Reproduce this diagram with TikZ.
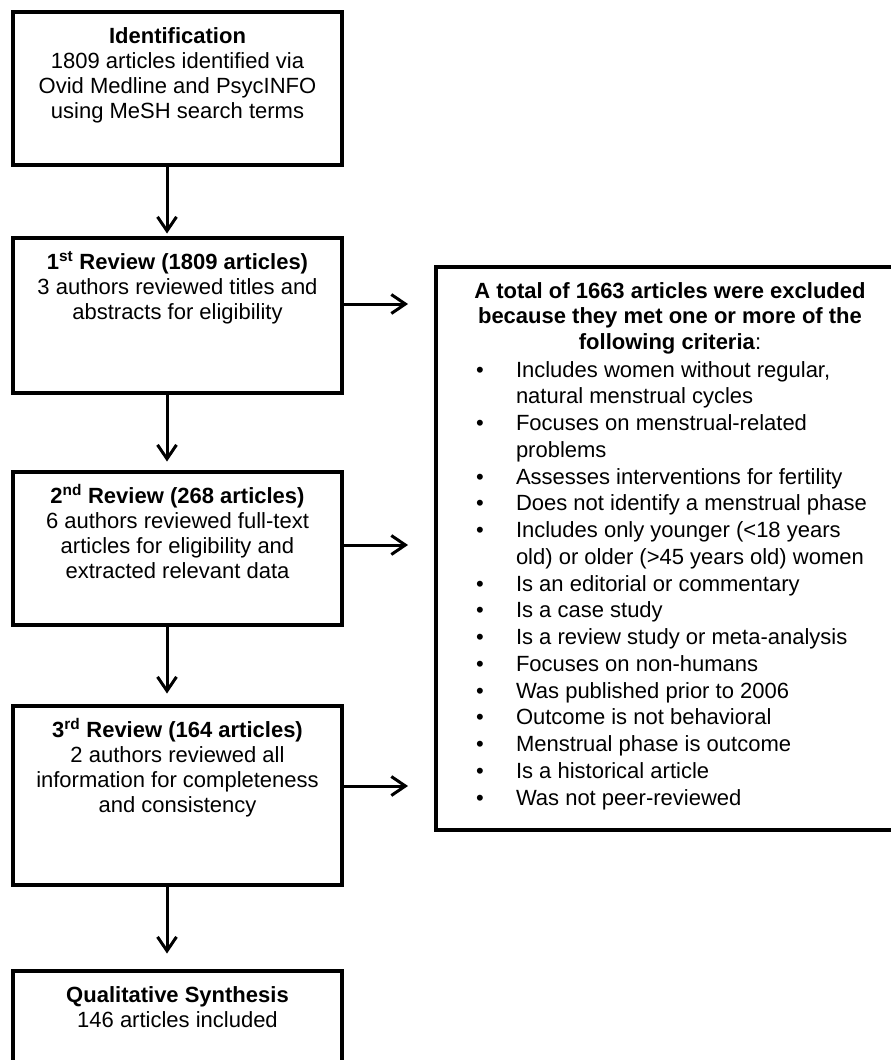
\documentclass[tikz,border=0pt]{standalone}
\usepackage{fontspec}
\setmainfont{Liberation Sans}
\usetikzlibrary{arrows.meta,positioning}
\newcommand{\stagebody}[2]{\begin{minipage}[t][#1][t]{329pt}\centering\fontsize{22}{25}\selectfont\rule{0pt}{31pt}#2\end{minipage}}
\newcommand{\critem}[1]{\par\noindent\hangindent=80pt\hangafter=1\hspace*{40pt}\makebox[40pt][l]{\textbullet}#1\par}

\begin{document}
\begin{tikzpicture}[x=1pt,y=-1pt,
    stage/.style={draw,line width=3.3pt,inner sep=0pt,outer sep=0pt,anchor=north west},
    flow/.style={line width=3pt,-{Straight Barb[length=14pt,width=19pt]}}]
  \useasboundingbox (0,0) rectangle (891,1060);
  \clip (0,0) rectangle (891,1060);
  \node[stage] (id) at (13,12)
    {\stagebody{153pt}{\textbf{Identification}\\1809 articles identified via\\Ovid Medline and PsycINFO\\using MeSH search terms}};
  \node[stage] (r1) at (13,238)
    {\stagebody{155pt}{\textbf{1\textsuperscript{st} Review (1809 articles)}\\3 authors reviewed titles and\\abstracts for eligibility}};
  \node[stage] (r2) at (13,472)
    {\stagebody{153pt}{\textbf{2\textsuperscript{nd} Review (268 articles)}\\6 authors reviewed full-text\\articles for eligibility and\\extracted relevant data}};
  \node[stage] (r3) at (13,706)
    {\stagebody{179pt}{\textbf{3\textsuperscript{rd} Review (164 articles)}\\2 authors reviewed all\\information for completeness\\and consistency}};
  \node[stage] (qs) at (13,971)
    {\stagebody{155pt}{\textbf{Qualitative Synthesis}\\146 articles included}};
  % exclusion criteria
  \node[stage] (excl) at (436,267)
    {\begin{minipage}[t][563pt][t]{468pt}
      {\centering\fontsize{22}{25.5}\selectfont\rule{0pt}{31pt}\textbf{A total of 1663 articles were excluded}\\
       \textbf{because they met one or more of the}\\\textbf{following criteria}:\par}
      \fontsize{22}{26.75}\selectfont\raggedright\vspace{1.25pt}
      \critem{Includes women without regular,\newline natural menstrual cycles}
      \critem{Focuses on menstrual-related\newline problems}
      \critem{Assesses interventions for fertility}
      \critem{Does not identify a menstrual phase}
      \critem{Includes only younger (<18 years\newline old) or older (>45 years old) women}
      \critem{Is an editorial or commentary}
      \critem{Is a case study}
      \critem{Is a review study or meta-analysis}
      \critem{Focuses on non-humans}
      \critem{Was published prior to 2006}
      \critem{Outcome is not behavioral}
      \critem{Menstrual phase is outcome}
      \critem{Is a historical article}
      \critem{Was not peer-reviewed}
    \end{minipage}};
  \draw[flow,shorten >=4.5pt] ([xshift=-10.5pt]id.south) -- ([xshift=-10.5pt]r1.north);
  \draw[flow,shorten >=10.5pt] ([xshift=-10.5pt]r1.south) -- ([xshift=-10.5pt]r2.north);
  \draw[flow,shorten >=12.5pt] ([xshift=-10.5pt]r2.south) -- ([xshift=-10.5pt]r3.north);
  \draw[flow,shorten >=17.5pt] ([xshift=-10.5pt]r3.south) -- ([xshift=-10.5pt]qs.north);
  \draw[flow,shorten >=28pt] ([yshift=11.5pt]r1.east) -- ([yshift=11.5pt]r1.east -| excl.west);
  \draw[flow,shorten >=28pt] ([yshift=3.5pt]r2.east) -- ([yshift=3.5pt]r2.east -| excl.west);
  \draw[flow,shorten >=28pt] ([yshift=9.5pt]r3.east) -- ([yshift=9.5pt]r3.east -| excl.west);
\end{tikzpicture}
\end{document}
